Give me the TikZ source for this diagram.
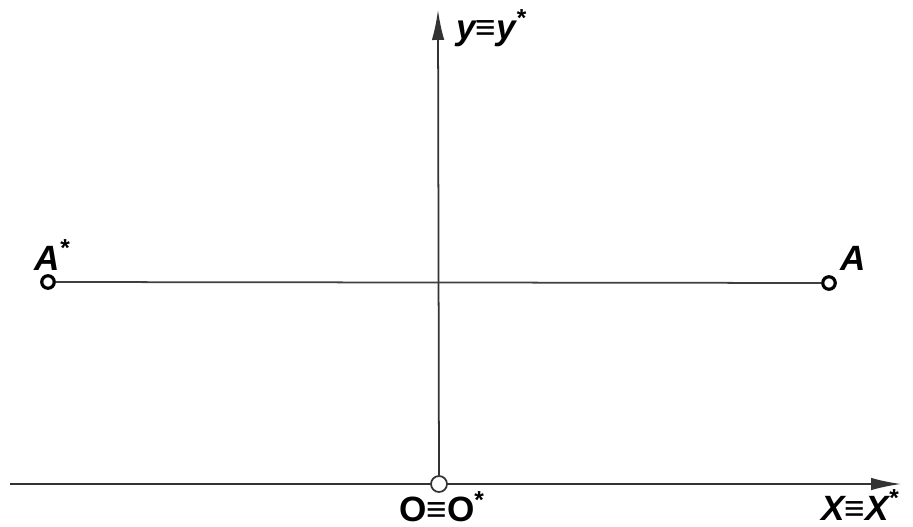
\documentclass[tikz,border=0pt]{standalone}
\usepackage{fontspec}
\setmainfont{Liberation Sans}
\usetikzlibrary{arrows.meta}

\begin{document}
\begin{tikzpicture}[
    x=0.02cm, y=-0.02cm,
    axis/.style={line width=1pt, black!80, -{Latex[length=6mm, width=2.5mm]}},
    hline/.style={line width=1pt, black!75},
    pt/.style={circle, draw=black, line width=1.8pt, fill=white, inner sep=0pt, minimum size=0.25cm},
    opt/.style={circle, draw=black!80, line width=1pt, fill=white, inner sep=0pt, minimum size=0.32cm},
    lab/.style={font=\fontsize{20}{20}\selectfont\bfseries\itshape, inner sep=0pt},
    olab/.style={font=\fontsize{20}{20}\selectfont\bfseries, inner sep=0pt}
  ]
    \useasboundingbox (0,0) rectangle (913,527);
    % ---- axes ----
    \coordinate (xs) at (10,484);
    \coordinate (xe) at (901,484);
    \coordinate (ye) at (438,10);
    \draw[axis] (xs) -- (xe);
    \node[opt] (o) at (439,484) {};
    \draw[axis] (o) -- (ye);
    % ---- points ----
    \node[pt] (as) at (48,282) {};
    \node[pt] (a) at (829,283) {};
    \draw[hline] (as) -- (a);
    % ---- labels ----
    \node[lab, anchor=west] (ylab) at (456,28) {y≡y\textsuperscript{*}};
    \node[lab] (aslab) at (52,255) {A\textsuperscript{*}};
    \node[lab] (alab) at (853,258) {A};
    \node[olab] (olab) at (442,507) {O≡O\textsuperscript{*}};
    \node[lab] (xlab) at (860,505) {X≡X\textsuperscript{*}};
  \end{tikzpicture}
\end{document}
